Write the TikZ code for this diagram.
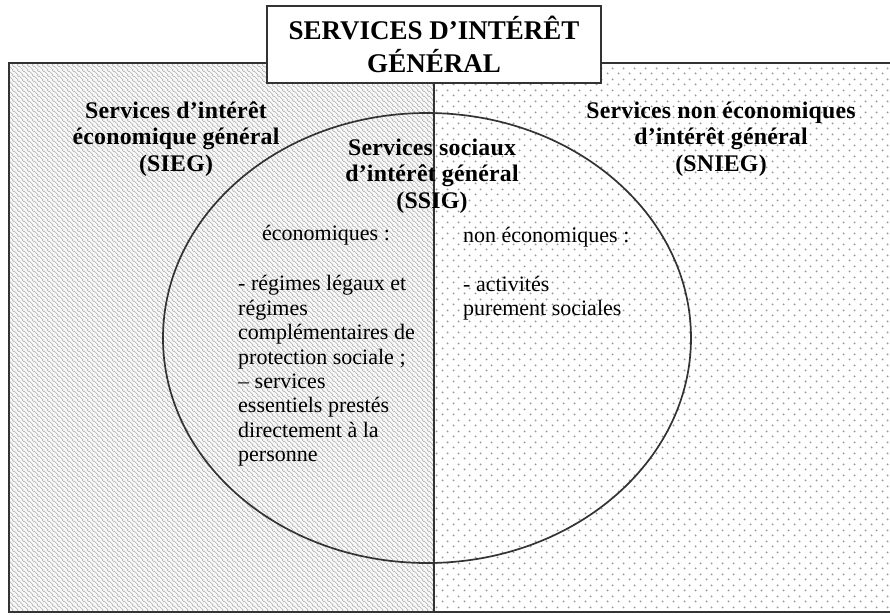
\documentclass[tikz,border=0pt]{standalone}
\usepackage{fontspec}
\setmainfont{Liberation Serif}
\newfontfamily\trackedserif[LetterSpace=1]{Liberation Serif}
\usetikzlibrary{patterns.meta}

\definecolor{inkgray}{gray}{0.2}
\definecolor{hatchgray}{gray}{0.72}
\definecolor{dotgray}{gray}{0.6}

\tikzdeclarepattern{
  name=sieghatch, type=uncolored,
  bounding box={(0pt,0pt) and (4.5pt,4.5pt)},
  tile size={(4.5pt,4.5pt)},
  code={
    \draw[line width=0.7pt] (-1pt,5.5pt) -- (5.5pt,-1pt);
    \draw[line width=0.7pt] (-1pt,1pt) -- (1pt,-1pt);
    \draw[line width=0.7pt] (3.5pt,5.5pt) -- (5.5pt,3.5pt);
  }
}
\tikzdeclarepattern{
  name=sniegdots, type=uncolored,
  bounding box={(0pt,0pt) and (11pt,11pt)},
  tile size={(11pt,11pt)},
  code={
    \fill (2.75pt,2.75pt) circle [radius=1.1pt];
    \fill (8.25pt,8.25pt) circle [radius=1.1pt];
  }
}

\begin{document}
\begin{tikzpicture}[x=1pt,y=-1pt,
    headtext/.style={align=center,inner sep=0pt,
      font=\trackedserif\bfseries\fontsize{23.8}{26.5}\selectfont},
    bodytext/.style={align=left,inner sep=0pt,
      font=\fontsize{22}{24.4}\selectfont}]
  \useasboundingbox (0,0) rectangle (890,614);
  \fill[gray!4] (9,63) rectangle (434,612);
  \fill[pattern=sieghatch,pattern color=hatchgray] (9,63) rectangle (434,612);
  \fill[pattern=sniegdots,pattern color=dotgray] (434,63) rectangle (891,612);
  \draw[inkgray,line width=1.4] (9,63) rectangle (891,612);
  \draw[inkgray,line width=1.8] (434,63) -- (434,612);
  \draw[inkgray,line width=1.7] (427,338) ellipse [x radius=264,y radius=225];
  \node (title) at (434,44.5) [draw=inkgray,line width=1.8,fill=white,
    minimum width=334,minimum height=77,align=center,
    font=\bfseries\fontsize{27}{33}\selectfont]
    {SERVICES D’INTÉRÊT\\GÉNÉRAL};
  \node[headtext] (sieg) at (176,139)
    {Services d’intérêt\\économique général\\(SIEG)};
  \node[headtext] (ssig) at (432,176)
    {Services sociaux\\d’intérêt général\\(SSIG)};
  \node[headtext] (snieg) at (721,139)
    {Services non économiques\\d’intérêt général\\(SNIEG)};
  \node[bodytext] (ecohead) at (326,235) {économiques :};
  \node[bodytext,anchor=west] (ecolist) at (238,371)
    {- régimes légaux et\\régimes\\complémentaires de\\protection sociale ;\\– services\\essentiels prestés\\directement à la\\personne};
  \node[bodytext,anchor=west] (noneco) at (463,273.5)
    {non économiques :\\[24.4pt]- activités\\purement sociales};
\end{tikzpicture}
\end{document}
